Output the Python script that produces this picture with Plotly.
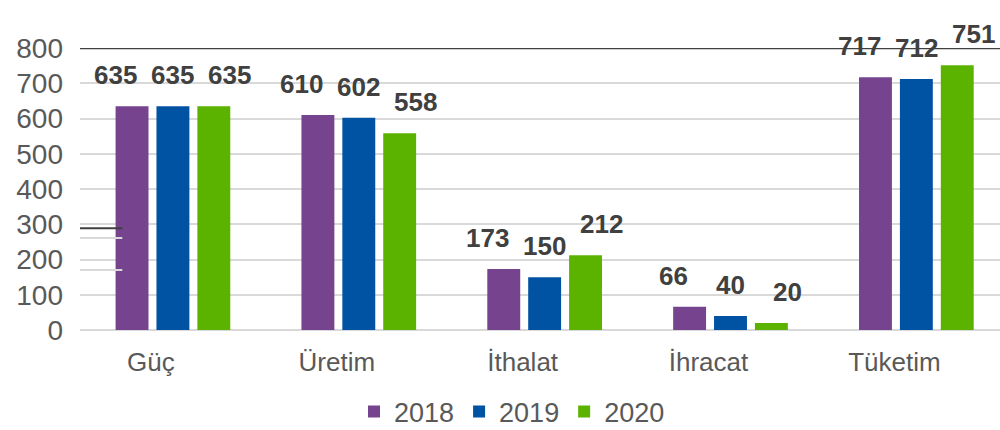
import plotly.graph_objects as go

categories = ["Güç", "Üretim", "İthalat", "İhracat", "Tüketim"]
years = ["2018", "2019", "2020"]
values_2018 = [635, 610, 173, 66, 717]
values_2019 = [635, 602, 150, 40, 712]
values_2020 = [635, 558, 212, 20, 751]
y_ticks = [0, 100, 200, 300, 400, 500, 600, 700, 800]

series = [values_2018, values_2019, values_2020]
colors = ["#76448F", "#0052A2", "#5BB300"]

FONT = "Liberation Sans, Arial, sans-serif"

fig = go.Figure()
for name, vals, col in zip(years, series, colors):
    fig.add_trace(go.Bar(
        x=categories, y=vals, name=name,
        marker=dict(color=col, line=dict(width=0)),
    ))

# value labels above each bar (spread slightly wider than the bars)
label_spacing_px = 57
for j, vals in enumerate(series):
    for cat, v in zip(categories, vals):
        fig.add_annotation(
            x=cat, y=v, text=f"<b>{v}</b>", showarrow=False,
            xshift=(j - 1) * label_spacing_px, yshift=31,
            font=dict(family=FONT, size=26, color="#404040"),
        )

# dark line at the top of the axis
fig.add_shape(type="line", xref="paper", yref="y", x0=0, x1=1, y0=800, y1=800,
              line=dict(color="#404040", width=2.5), layer="above")
# small stray lines near the left axis
fig.add_shape(type="line", xref="paper", yref="y", x0=0, x1=0.046, y0=289, y1=289,
              line=dict(color="#404040", width=2), layer="above")
for yv in (261, 170):
    fig.add_shape(type="line", xref="paper", yref="y", x0=0, x1=0.046, y0=yv, y1=yv,
                  line=dict(color="#D9D9D9", width=2), layer="above")

fig.update_layout(
    width=1000, height=430,
    margin=dict(l=80, r=0, t=48, b=100, autoexpand=False),
    paper_bgcolor="white", plot_bgcolor="white",
    barmode="group", bargap=0.34, bargroupgap=0.195,
    font=dict(family=FONT, color="#595959"),
    showlegend=True,
    legend=dict(orientation="h", x=0.512, xref="container", xanchor="center",
                y=18 / 430, yref="container", yanchor="middle",
                font=dict(size=27, color="#595959"), itemwidth=30,
                traceorder="normal"),
    xaxis=dict(type="category", range=[-0.5, 4.45], showgrid=False, showline=False,
               ticks="", tickfont=dict(size=26, color="#595959"), automargin=False,
               ticklabelshift=-22, ticklabelstandoff=14),
    yaxis=dict(range=[0, 800], tickvals=y_ticks, ticktext=[str(t) for t in y_ticks],
               showgrid=True, gridcolor="#D9D9D9", gridwidth=2, automargin=False,
               zeroline=True, zerolinecolor="#D9D9D9", zerolinewidth=2,
               showline=False, ticks="", tickfont=dict(size=28, color="#595959"),
               ticklabelstandoff=16),
)

fig.write_html("out.html")
